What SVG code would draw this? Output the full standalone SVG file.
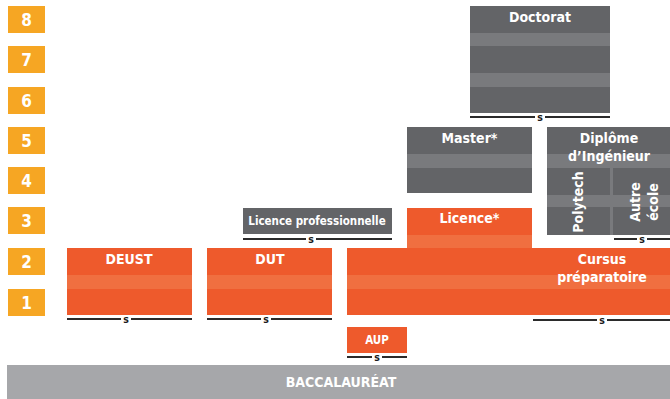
<svg xmlns="http://www.w3.org/2000/svg" width="670" height="399" viewBox="0 0 670 399">
<style>
.lvl{fill:#F6A623}
.lt{font-family:"DejaVu Sans Condensed","DejaVu Sans",sans-serif;font-weight:bold;font-size:17px;fill:#fff;text-anchor:middle}
.or{fill:#EE5A2C}
.orl{fill:#F06F40}
.gr{fill:#636467}
.grl{fill:#797A7D}
.t{font-family:"DejaVu Sans Condensed","DejaVu Sans",sans-serif;font-weight:bold;font-size:14px;fill:#fff;text-anchor:middle}
.ts{font-family:"DejaVu Sans Condensed","DejaVu Sans",sans-serif;font-weight:bold;font-size:11.5px;fill:#fff;text-anchor:middle}
.ln{stroke:#2b2b2b;stroke-width:2;fill:none}
.s{font-family:"DejaVu Sans Condensed","DejaVu Sans",sans-serif;font-weight:bold;font-size:10.5px;fill:#1a1a1a;text-anchor:middle}
</style>
<g id="levels">
<rect class="lvl" x="8" y="6" width="37" height="27"/><text class="lt" x="26.5" y="26">8</text>
<rect class="lvl" x="8" y="46" width="37" height="27"/><text class="lt" x="26.5" y="66">7</text>
<rect class="lvl" x="8" y="87" width="37" height="27"/><text class="lt" x="26.5" y="107">6</text>
<rect class="lvl" x="8" y="127" width="37" height="27"/><text class="lt" x="26.5" y="147">5</text>
<rect class="lvl" x="8" y="167" width="37" height="27"/><text class="lt" x="26.5" y="187">4</text>
<rect class="lvl" x="8" y="207" width="37" height="27"/><text class="lt" x="26.5" y="227">3</text>
<rect class="lvl" x="8" y="248" width="37" height="27"/><text class="lt" x="26.5" y="268">2</text>
<rect class="lvl" x="8" y="289" width="37" height="27"/><text class="lt" x="26.5" y="309">1</text>
</g>
<g id="bac">
<rect x="7" y="365" width="663" height="34" fill="#A6A7AA"/>
<text class="t" x="341" y="387" font-size="15">BACCALAURÉAT</text>
</g>
<g id="deust">
<rect class="or" x="67" y="248" width="125" height="67"/>
<rect class="orl" x="67" y="275" width="125" height="14"/>
<text class="t" x="129" y="264">DEUST</text>
</g>
<g id="dut">
<rect class="or" x="207" y="248" width="125" height="67"/>
<rect class="orl" x="207" y="275" width="125" height="14"/>
<text class="t" x="270" y="264">DUT</text>
</g>
<g id="licence-pro">
<rect class="gr" x="243" y="208" width="149" height="26"/>
<text class="ts" x="317" y="225">Licence professionnelle</text>
</g>
<g id="cursus">
<rect class="or" x="347" y="248" width="323" height="67"/>
<rect class="orl" x="347" y="275" width="323" height="14"/>
<text class="t" x="602" y="264">Cursus</text>
<text class="t" x="602" y="282">préparatoire</text>
</g>
<g id="licence">
<rect class="or" x="407" y="208" width="125" height="40"/>
<rect class="orl" x="407" y="235" width="125" height="13"/>
<text class="t" x="469.5" y="223">Licence*</text>
</g>
<g id="master">
<rect class="gr" x="407" y="127" width="125" height="66"/>
<rect class="grl" x="407" y="154" width="125" height="14"/>
<text class="t" x="469.5" y="143">Master*</text>
</g>
<g id="doctorat">
<rect class="gr" x="470" y="6" width="140" height="107"/>
<rect class="grl" x="470" y="33" width="140" height="13"/>
<rect class="grl" x="470" y="73" width="140" height="14"/>
<text class="t" x="540" y="22">Doctorat</text>
</g>
<g id="ingenieur">
<rect class="gr" x="547" y="127" width="123" height="108"/>
<rect class="grl" x="547" y="154" width="123" height="14"/>
<rect class="grl" x="547" y="195" width="123" height="12"/>
<rect class="grl" x="610" y="168" width="3" height="67"/>
<text class="t" x="609" y="143">Diplôme</text>
<text class="t" x="609" y="161">d’Ingénieur</text>
<text class="t" transform="translate(583,202) rotate(-90)" font-size="13.5">Polytech</text>
<text class="t" transform="translate(640,202) rotate(-90)" font-size="13.5">Autre</text>
<text class="t" transform="translate(658,202) rotate(-90)" font-size="13.5">école</text>
</g>
<g id="aup">
<rect class="or" x="347" y="327" width="60" height="26"/>
<text class="ts" x="377" y="344" font-size="12.5">AUP</text>
</g>
<g id="connectors">
<path class="ln" d="M470 117H535M545 117H610"/><text class="s" x="540" y="120.5">s</text>
<path class="ln" d="M243 239H306M316 239H392"/><text class="s" x="311" y="242.5">s</text>
<path class="ln" d="M614 239H637M647 239H670"/><text class="s" x="642" y="242.5">s</text>
<path class="ln" d="M67 319H121M131 319H192"/><text class="s" x="126" y="322.5">s</text>
<path class="ln" d="M207 319H261M271 319H332"/><text class="s" x="266" y="322.5">s</text>
<path class="ln" d="M533 320H597M607 320H670"/><text class="s" x="602" y="323.5">s</text>
<path class="ln" d="M347 357H372M382 357H407"/><text class="s" x="377" y="360.5">s</text>
</g>
</svg>
